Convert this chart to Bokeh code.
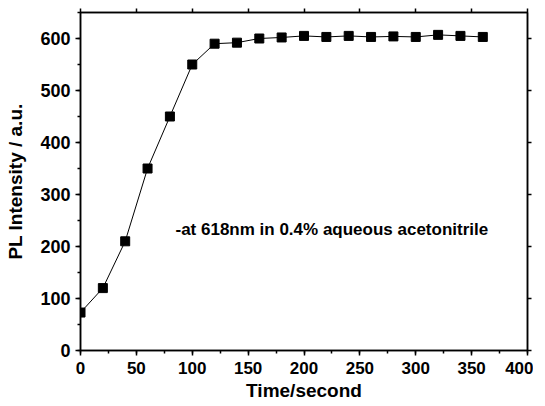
from bokeh.plotting import figure
from bokeh.models import LinearAxis, Range1d, FixedTicker, Label
from bokeh.embed import file_html
from bokeh.resources import INLINE

time_s = [0, 20, 40, 60, 80, 100, 120, 140, 160, 180, 200, 220, 240, 260, 280, 300, 320, 340, 360]
intensity = [73, 120, 210, 350, 450, 550, 590, 592, 600, 602, 605, 603, 605, 603, 604, 603, 607, 605, 603]
x_ticks = [0, 50, 100, 150, 200, 250, 300, 350, 400]
y_ticks = [0, 100, 200, 300, 400, 500, 600]
x_minor = [0, 25, 50, 75, 100, 125, 150, 175, 200, 225, 250, 275, 300, 325, 350, 375, 400]
y_minor = [0, 50, 100, 150, 200, 250, 300, 350, 400, 450, 500, 550, 600, 650]
annotation = "-at 618nm in 0.4% aqueous acetonitrile"

FONT = "Liberation Sans"

p = figure(width=533, height=406, output_backend="svg", toolbar_location=None,
           x_range=Range1d(0, 400), y_range=Range1d(0, 650),
           min_border_left=80, min_border_top=12, min_border_right=6, min_border_bottom=56)
p.grid.visible = False
p.outline_line_color = "black"
p.outline_line_width = 1.5
p.background_fill_color = "white"
p.border_fill_color = "white"

p.line(time_s, intensity, line_color="black", line_width=1)
p.scatter(time_s, intensity, marker="square", size=9, fill_color="black", line_color="black")

p.xaxis.ticker = FixedTicker(ticks=x_ticks, minor_ticks=x_minor)
p.yaxis.ticker = FixedTicker(ticks=y_ticks, minor_ticks=y_minor)

for ax in [p.xaxis[0], p.yaxis[0]]:
    ax.axis_line_width = 1.5
    ax.major_tick_line_width = 1.5
    ax.minor_tick_line_width = 1.5
    ax.major_tick_out = 5
    ax.major_tick_in = 0
    ax.minor_tick_out = 3
    ax.minor_tick_in = 0
    ax.major_label_text_font = FONT
    ax.major_label_text_font_style = "bold"
    ax.major_label_text_font_size = "17px"
    ax.major_label_text_color = "black"
    ax.axis_label_text_font = FONT
    ax.axis_label_text_font_style = "bold"
    ax.axis_label_text_font_size = "19px"
    ax.axis_label_text_color = "black"

p.yaxis.major_label_text_font_size = "18px"
p.xaxis.axis_label = "Time/second"
p.yaxis.axis_label = "PL Intensity / a.u."
p.xaxis.major_label_standoff = 6
p.yaxis.major_label_standoff = 5
p.xaxis.axis_label_standoff = 3
p.yaxis.axis_label_standoff = 11

top = LinearAxis(ticker=FixedTicker(ticks=x_ticks, minor_ticks=x_minor),
                 major_label_overrides={t: "" for t in x_ticks})
right = LinearAxis(ticker=FixedTicker(ticks=y_ticks, minor_ticks=y_minor),
                   major_label_overrides={t: "" for t in y_ticks})
for ax in [top, right]:
    ax.major_label_standoff = 0
    ax.axis_line_width = 1.5
    ax.major_tick_line_width = 1.5
    ax.minor_tick_line_width = 1.5
    ax.major_tick_out = 4
    ax.major_tick_in = 0
    ax.minor_tick_out = 0
    ax.minor_tick_in = 0
p.add_layout(top, "above")
p.add_layout(right, "right")

p.add_layout(Label(x=85, y=233, text=annotation, text_font=FONT, text_font_style="bold",
                   text_font_size="17px", text_baseline="middle", text_color="black"))

open("out.html", "w").write(file_html(p, INLINE))
